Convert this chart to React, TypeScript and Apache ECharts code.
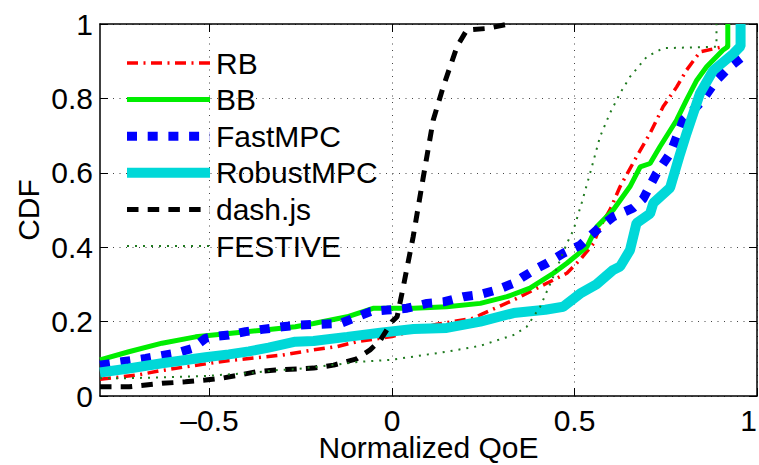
import React, { useEffect, useRef } from "react";
import * as echarts from "echarts";

const seriesNames = ["RB", "BB", "FastMPC", "RobustMPC", "dash.js", "FESTIVE"];
const xTickValues = [-0.5, 0, 0.5, 1];

const rbData = [
  [-0.8, 0.045], [-0.7, 0.056], [-0.64, 0.067], [-0.575, 0.077], [-0.45, 0.095], [-0.3, 0.11],
  [-0.215, 0.124], [-0.15, 0.133], [-0.096, 0.146], [0.0, 0.16], [0.123, 0.193], [0.223, 0.209],
  [0.242, 0.218], [0.333, 0.258], [0.424, 0.303], [0.479, 0.33], [0.515, 0.366], [0.552, 0.41],
  [0.57, 0.455], [0.597, 0.5], [0.625, 0.563], [0.67, 0.643], [0.707, 0.706], [0.743, 0.778],
  [0.78, 0.831], [0.807, 0.876], [0.844, 0.925], [0.907, 0.939], [0.92, 0.94], [0.92, 1.0],
];
const bbData = [
  [-0.8, 0.097], [-0.721, 0.119], [-0.63, 0.142], [-0.538, 0.159], [-0.447, 0.168], [-0.356, 0.177],
  [-0.265, 0.186], [-0.215, 0.195], [-0.123, 0.213], [-0.05, 0.236], [0.059, 0.236], [0.15, 0.24],
  [0.242, 0.249], [0.315, 0.267], [0.378, 0.29], [0.442, 0.33], [0.479, 0.357], [0.534, 0.401],
  [0.561, 0.455], [0.606, 0.5], [0.652, 0.563], [0.68, 0.616], [0.707, 0.625], [0.734, 0.67],
  [0.78, 0.742], [0.807, 0.796], [0.835, 0.849], [0.862, 0.885], [0.907, 0.93], [0.92, 0.939], [0.92, 1.0],
];
const fastMpcData = [
  [-0.8, 0.083], [-0.74, 0.092], [-0.675, 0.101], [-0.593, 0.115], [-0.547, 0.128], [-0.511, 0.155],
  [-0.493, 0.159], [-0.447, 0.164], [-0.401, 0.173], [-0.356, 0.179], [-0.301, 0.186], [-0.251, 0.191],
  [-0.141, 0.195], [-0.105, 0.209], [-0.059, 0.227], [-0.014, 0.231], [0.041, 0.236], [0.096, 0.249],
  [0.141, 0.253], [0.196, 0.267], [0.242, 0.273], [0.287, 0.285], [0.333, 0.303], [0.36, 0.321],
  [0.397, 0.343], [0.424, 0.357], [0.47, 0.384], [0.515, 0.405], [0.561, 0.446], [0.606, 0.482],
  [0.66, 0.505], [0.688, 0.53], [0.725, 0.599], [0.762, 0.652], [0.798, 0.742], [0.844, 0.787],
  [0.889, 0.849], [0.926, 0.885], [0.955, 0.908],
];
const robustMpcData = [
  [-0.8, 0.063], [-0.721, 0.074], [-0.63, 0.088], [-0.511, 0.104], [-0.447, 0.112], [-0.392, 0.12],
  [-0.338, 0.13], [-0.265, 0.146], [-0.215, 0.148], [-0.123, 0.159], [-0.032, 0.17], [0.059, 0.18],
  [0.15, 0.183], [0.242, 0.2], [0.333, 0.223], [0.42, 0.232], [0.469, 0.24], [0.515, 0.275],
  [0.56, 0.3], [0.606, 0.339], [0.625, 0.348], [0.652, 0.392], [0.67, 0.465], [0.707, 0.49],
  [0.716, 0.519], [0.762, 0.56], [0.789, 0.65], [0.807, 0.706], [0.844, 0.814], [0.88, 0.875],
  [0.935, 0.92], [0.955, 0.94], [0.955, 1.0],
];
const dashJsData = [
  [-0.8, 0.025], [-0.72, 0.025], [-0.63, 0.034], [-0.566, 0.038], [-0.511, 0.043], [-0.465, 0.048],
  [-0.42, 0.056], [-0.374, 0.065], [-0.319, 0.07], [-0.215, 0.075], [-0.16, 0.083], [-0.097, 0.1],
  [-0.06, 0.124], [-0.032, 0.15], [0.0, 0.2], [0.014, 0.213], [0.031, 0.294], [0.058, 0.428],
  [0.086, 0.59], [0.113, 0.742], [0.14, 0.83], [0.178, 0.939], [0.205, 0.984], [0.26, 0.988],
  [0.31, 0.998], [0.33, 1.0],
];
const festiveData = [
  [-0.8, 0.048], [-0.72, 0.048], [-0.63, 0.05], [-0.51, 0.054], [-0.4, 0.061], [-0.31, 0.07],
  [-0.265, 0.072], [-0.087, 0.092], [-0.005, 0.097], [0.059, 0.106], [0.15, 0.119], [0.242, 0.135],
  [0.333, 0.164], [0.369, 0.186], [0.406, 0.24], [0.442, 0.321], [0.479, 0.41], [0.497, 0.446],
  [0.52, 0.52], [0.543, 0.6], [0.57, 0.697], [0.597, 0.76], [0.625, 0.814], [0.652, 0.858],
  [0.698, 0.912], [0.743, 0.935], [0.889, 0.939], [0.889, 1.0],
];

const FONT = "Liberation Sans";

export default function App() {
  const ref = useRef<HTMLDivElement>(null);
  useEffect(() => {
    if (!ref.current) return;
    document.body.style.margin = "0";
    const chart = echarts.init(ref.current, null, { renderer: "svg" });
    const fmtX = (v: number) => {
      const r = Math.round(v * 100) / 100;
      if (r < 0) return "\u2013" + String(-r);
      return String(r);
    };
    const fmtY = (v: number) => String(Math.round(v * 10) / 10);
    const gridLine = { show: true, lineStyle: { color: "#444", width: 1, type: [1, 5.5] } };
    const labelStyle = { fontFamily: FONT, fontSize: 30, color: "#000" };
    const mk = (name: string, data: number[][], color: string, width: number, type: any) => ({
      name,
      type: "line",
      data,
      symbol: "none",
      showSymbol: false,
      lineStyle: { color, width, type, cap: "butt" },
      itemStyle: { color },
    });
    chart.setOption({
      animation: false,
      grid: { left: 100, top: 24, right: 2, bottom: 69, outerBoundsMode: "none", containLabel: false },
      legend: {
        orient: "vertical",
        left: 122,
        top: 48,
        padding: 0,
        itemWidth: 83,
        itemHeight: 14,
        itemGap: 6.6,
        data: seriesNames,
        textStyle: { ...labelStyle, lineHeight: 30, padding: [0, 0, 0, 1] },
        lineStyle: { width: "inherit" },
        itemStyle: { opacity: 0 },
      },
      xAxis: [
        {
          type: "value",
          min: -0.8,
          max: 1,
          name: "Normalized QoE",
          nameLocation: "middle",
          nameGap: 40,
          nameMoveOverlap: false,
          nameTextStyle: { ...labelStyle, lineHeight: 23 },
          axisLine: { show: true, onZero: false, lineStyle: { color: "#000", width: 1.5 } },
          axisTick: { show: true, inside: true, length: 8, customValues: xTickValues, lineStyle: { color: "#000" } },
          axisLabel: {
            show: true,
            customValues: xTickValues,
            formatter: fmtX,
            margin: 13,
            alignMaxLabel: "right",
            ...labelStyle,
            lineHeight: 23,
          },
          splitLine: gridLine,
        },
        {
          type: "value",
          min: -0.8,
          max: 1,
          position: "top",
          axisLine: { show: true, onZero: false, lineStyle: { color: "#000", width: 1.5 } },
          axisTick: { show: true, inside: true, length: 8, customValues: xTickValues, lineStyle: { color: "#000" } },
          axisLabel: { show: false },
          splitLine: { show: false },
        },
      ],
      yAxis: [
        {
          type: "value",
          min: 0,
          max: 1,
          interval: 0.2,
          name: "CDF",
          nameLocation: "middle",
          nameGap: 57,
          nameMoveOverlap: false,
          nameTextStyle: labelStyle,
          axisLine: { show: true, onZero: false, lineStyle: { color: "#000", width: 1.5 } },
          axisTick: { show: true, inside: true, length: 8, lineStyle: { color: "#000" } },
          axisLabel: { show: true, formatter: fmtY, margin: 7, ...labelStyle },
          splitLine: gridLine,
        },
        {
          type: "value",
          min: 0,
          max: 1,
          interval: 0.2,
          position: "right",
          axisLine: { show: true, onZero: false, lineStyle: { color: "#000", width: 1.5 } },
          axisTick: { show: true, inside: true, length: 8, lineStyle: { color: "#000" } },
          axisLabel: { show: false },
          splitLine: { show: false },
        },
      ],
      series: [
        mk("RB", rbData, "#ff0000", 3.5, [11, 5.5, 2, 5.5]),
        mk("BB", bbData, "#00ee00", 5, "solid"),
        mk("FastMPC", fastMpcData, "#0000ff", 9, [10, 10.7]),
        mk("RobustMPC", robustMpcData, "#00d8d8", 10, "solid"),
        mk("dash.js", dashJsData, "#000000", 5, [11.5, 9.2]),
        mk("FESTIVE", festiveData, "#1f7a1f", 2, [2, 6]),
      ],
    });
    return () => chart.dispose();
  }, []);
  return <div ref={ref} style={{ width: 759, height: 465 }} />;
}
